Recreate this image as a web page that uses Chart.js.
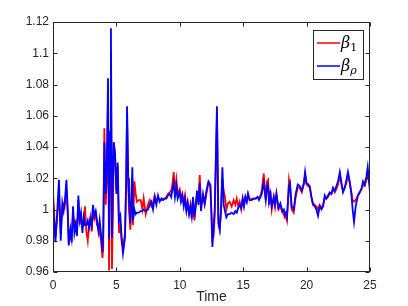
<!DOCTYPE html>
<html><head><meta charset="utf-8">
<script src="https://cdn.jsdelivr.net/npm/chart.js@4/dist/chart.umd.min.js"></script>
<style>html,body{margin:0;padding:0;background:#fff;}canvas{display:block;}</style>
</head><body>
<canvas id="c" width="408" height="306"></canvas>
<script>
const times = [0,0.19,0.33,0.47,0.61,0.74,0.84,0.92,1.06,1.16,1.24,1.37,1.47,1.58,1.69,1.79,1.89,2.0,2.1,2.21,2.32,2.42,2.52,2.63,2.74,2.84,2.95,3.05,3.15,3.26,3.37,3.47,3.58,3.68,3.79,3.9,3.96,
4.05,4.16,4.25,4.34,4.42,4.5,4.57,4.65,4.73,4.79,4.89,5.0,5.1,5.2,5.31,5.42,5.52,5.68,5.77,5.84,5.93,5.99,6.1,6.26,6.31,6.42,6.52,6.62,6.76,6.92,7.05,7.15,7.31,7.49,7.63,7.76,7.89,8.02,8.15,8.28,8.41,8.55,8.68,8.81,8.94,9.07,9.2,9.32,9.4,9.52,9.62,9.73,9.83,9.99,
10.09,10.2,10.31,10.41,10.52,10.62,10.73,10.84,10.94,11.04,11.15,11.25,11.36,11.47,11.57,11.67,11.83,11.96,12.1,12.26,12.41,12.5,12.57,12.67,12.75,12.93,13.04,13.15,13.25,13.36,13.46,13.56,13.67,13.8,13.93,14.09,14.25,14.38,14.49,14.61,14.72,14.84,14.96,
15.06,15.17,15.28,15.38,15.51,15.67,15.83,15.99,16.14,16.25,16.36,16.46,16.62,16.78,16.88,16.96,17.04,17.15,17.25,17.41,17.51,17.62,17.78,17.93,18.09,18.2,18.27,18.35,18.45,18.61,18.69,18.82,18.98,19.14,19.3,19.46,19.62,19.78,19.88,19.99,
20.13,20.25,20.38,20.5,20.64,20.77,20.9,21.03,21.17,21.3,21.43,21.56,21.69,21.82,21.96,22.08,22.22,22.35,22.48,22.62,22.75,22.87,23.01,23.14,23.26,23.4,23.53,23.63,23.74,23.87,24.05,24.19,24.32,24.45,24.58,24.72,24.82,25];

const betaOne = [1.011,0.982,0.995,1.01,0.985,1.003,1.004,1.002,1.012,0.998,0.979,0.986,0.981,0.997,0.99,0.992,0.986,1.006,0.993,0.991,0.989,0.99,1.002,0.986,0.98,0.99,0.995,0.986,0.998,0.994,0.997,0.99,0.988,0.985,0.98,0.969,0.975,
1.052,1.003,1.02,1.075,0.961,1.04,1.1,0.962,1.0,1.043,1.035,1.012,1.028,0.985,0.99,0.979,0.976,0.985,1.015,1.06,1.02,1.0,0.987,1.02,0.99,1.018,1.01,1.005,1.006,1.006,1.0,1.007,0.997,1.003,1.006,1.002,1.004,1.009,1.005,1.008,1.006,1.006,1.007,1.007,1.008,1.01,1.011,1.012,1.015,1.024,1.011,1.019,1.01,1.013,
1.007,1.01,1.004,1.009,1.0,1.005,0.998,1.003,0.994,1.006,0.993,1.001,1.01,1.006,1.022,1.004,1.008,1.003,1.01,1.017,1.015,0.998,0.981,0.983,0.995,1.06,0.995,0.988,0.998,1.02,1.012,1.008,1.0,1.004,1.005,1.002,1.006,1.003,1.007,1.002,1.005,1.0,1.007,
1.003,1.008,1.005,1.01,1.006,1.007,1.007,1.007,1.008,1.007,1.009,1.012,1.023,1.006,1.018,1.019,1.003,1.012,1.0,1.008,1.002,1.01,1.0,1.002,0.998,0.997,0.995,0.996,0.993,1.019,1.015,1.0,0.998,1.008,1.014,1.014,1.011,1.016,1.022,1.016,
1.015,1.014,1.008,1.004,1.003,1.002,1.0,1.003,1.001,1.003,1.007,1.007,1.008,1.01,1.01,1.013,1.011,1.013,1.016,1.022,1.016,1.012,1.014,1.017,1.022,1.017,1.011,1.006,1.005,1.006,1.009,1.011,1.013,1.016,1.015,1.019,1.022,1.015];

const betaRho = [1.006,0.979,0.998,1.019,0.98,1.004,0.999,1.004,1.019,1.0,0.977,0.987,0.979,1.002,0.985,0.99,0.983,1.009,0.993,0.998,0.985,0.995,0.99,0.99,0.993,0.988,0.994,0.99,1.003,0.996,0.999,0.993,0.986,0.993,0.984,0.973,0.985,
1.043,1.01,1.03,1.084,0.981,1.05,1.116,0.982,1.02,1.043,1.036,1.01,1.03,0.993,0.996,0.981,0.972,0.982,1.02,1.066,1.02,1.008,0.991,1.027,0.993,1.0,0.997,0.998,0.998,0.999,0.999,1.0,0.999,1.0,1.003,1.005,1.0,1.008,1.003,1.009,1.005,1.007,1.006,1.007,1.007,1.009,1.01,1.008,1.012,1.017,1.008,1.015,1.007,1.011,
1.005,1.009,1.002,1.007,0.999,1.004,0.997,1.002,0.996,1.008,0.995,1.003,1.012,1.003,1.017,0.999,1.01,1.004,1.012,1.018,1.016,0.995,0.976,0.99,0.999,1.066,0.991,0.987,1.0,1.027,1.003,0.999,0.995,0.997,0.997,0.998,0.997,0.999,0.998,1.001,1.003,1.001,1.007,
1.002,1.008,1.005,1.01,1.006,1.006,1.007,1.007,1.008,1.006,1.008,1.01,1.017,1.006,1.015,1.016,1.005,1.01,1.002,1.008,1.003,1.01,1.001,1.004,0.999,1.0,0.997,0.998,0.995,1.015,1.017,1.002,1.0,1.01,1.016,1.015,1.012,1.017,1.024,1.017,
1.016,1.015,1.008,1.003,1.002,1.0,0.996,1.002,1.0,1.002,1.009,1.007,1.009,1.011,1.01,1.014,1.012,1.015,1.018,1.024,1.017,1.011,1.014,1.019,1.024,1.018,1.01,1.0,0.992,1.002,1.009,1.011,1.013,1.018,1.016,1.021,1.027,1.011];

const xTicks = [0,5,10,15,20,25];
const yTicks = [0.96,0.98,1,1.02,1.04,1.06,1.08,1.1,1.12];
const seriesLabels = ['β1','βρ'];
const seriesColors = ['#ff0000','#0000ff'];

const axisColor = '#262626';
const tickFont = {family:'"Liberation Sans", Arial, Helvetica, sans-serif', size:12};

const boxPlugin = {
  id:'boxTicks',
  afterDraw(chart){
    const {ctx, chartArea:a, scales:{x,y}} = chart;
    ctx.save();
    ctx.strokeStyle = axisColor;
    ctx.lineWidth = 1;
    const L=Math.round(a.left)+0.5, R=Math.round(a.right)-0.5, T=Math.round(a.top)+0.5, B=Math.round(a.bottom)-0.5;
    ctx.strokeRect(L,T,R-L,B-T);
    const tl = 4;
    ctx.beginPath();
    xTicks.forEach(v=>{
      const px = Math.round(x.getPixelForValue(v))+0.5;
      ctx.moveTo(px,B); ctx.lineTo(px,B-tl);
      ctx.moveTo(px,T); ctx.lineTo(px,T+tl);
    });
    yTicks.forEach(v=>{
      const py = Math.round(y.getPixelForValue(v))+0.5;
      ctx.moveTo(L,py); ctx.lineTo(L+tl,py);
      ctx.moveTo(R,py); ctx.lineTo(R-tl,py);
    });
    ctx.stroke();
    // legend
    const lx=313.5, ly=30.5, lw=50, lh=49;
    ctx.fillStyle='#fff';
    ctx.fillRect(lx,ly,lw,lh);
    ctx.strokeStyle='#262626';
    ctx.strokeRect(lx,ly,lw,lh);
    const rows=[43,66];
    rows.forEach((ry,i)=>{
      ctx.strokeStyle=seriesColors[i];
      ctx.lineWidth=1.5;
      ctx.beginPath(); ctx.moveTo(317,ry); ctx.lineTo(340,ry); ctx.stroke();
      ctx.fillStyle='#000';
      ctx.textBaseline='alphabetic';
      ctx.textAlign='left';
      ctx.font='italic 16px "DejaVu Serif", "Liberation Serif", serif';
      const lab = seriesLabels[i];
      ctx.fillText(lab[0], 341, ry+5);
      const w = ctx.measureText(lab[0]).width;
      ctx.font=(i===0?'':'italic ')+'11px "DejaVu Serif", "Liberation Serif", serif';
      ctx.fillText(lab.slice(1), 341+w, ry+8);
    });
    ctx.restore();
  }
};

new Chart(document.getElementById('c'), {
  type:'line',
  data:{
    datasets:[
      {label:seriesLabels[0], data:times.map((t,i)=>({x:t,y:betaOne[i]})), borderColor:seriesColors[0], borderWidth:1.8, pointRadius:0, tension:0, fill:false, order:1},
      {label:seriesLabels[1], data:times.map((t,i)=>({x:t,y:betaRho[i]})), borderColor:seriesColors[1], borderWidth:1.8, pointRadius:0, tension:0, fill:false, order:0}
    ]
  },
  options:{
    responsive:false, animation:false, devicePixelRatio:1,
    layout:{padding:{top:22,right:38,left:0,bottom:0}},
    plugins:{legend:{display:false}, tooltip:{enabled:false}},
    scales:{
      x:{type:'linear', min:0, max:25,
        afterBuildTicks(s){ s.ticks = xTicks.map(v=>({value:v})); },
        afterFit(s){ s.height = 34; },
        grid:{display:false, drawTicks:false},
        border:{display:false},
        ticks:{padding:6, color:axisColor, font:tickFont, maxRotation:0, autoSkip:false, callback:v=>String(v)},
        title:{display:true, text:'Time', color:axisColor, font:{family:tickFont.family, size:14}, padding:{top:0,bottom:0}}
      },
      y:{type:'linear', min:0.96, max:1.12,
        afterBuildTicks(s){ s.ticks = yTicks.map(v=>({value:v})); },
        afterFit(s){ s.width = 53; },
        grid:{display:false, drawTicks:false},
        border:{display:false},
        ticks:{padding:4, color:axisColor, font:tickFont, autoSkip:false, callback:v=>String(+Number(v).toFixed(2))}
      }
    }
  },
  plugins:[boxPlugin]
});
</script>
</body></html>
